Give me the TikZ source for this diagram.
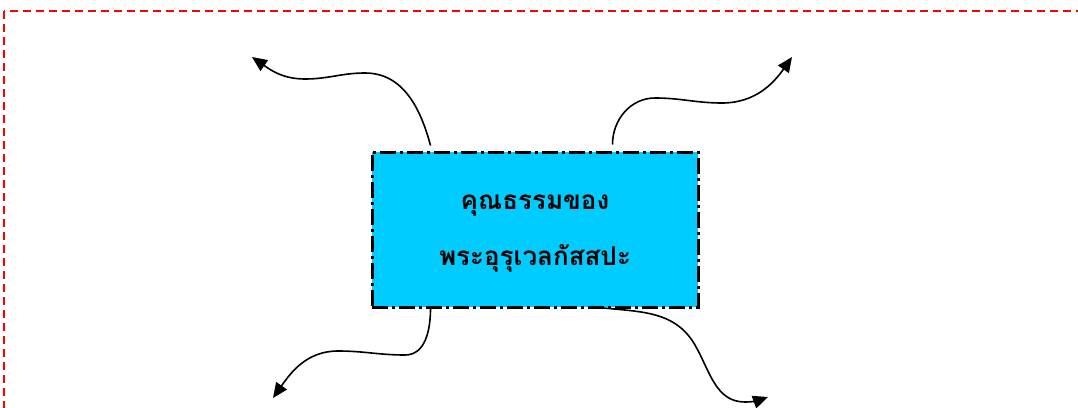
\documentclass[tikz,border=0pt]{standalone}
\usepackage{fontspec}
\newfontfamily\thaifont[Script=Thai]{Loma}
\usetikzlibrary{arrows.meta}
\definecolor{boxcyan}{RGB}{0,204,255}
\tikzset{
  mainbox/.style={draw=black, fill=boxcyan, line width=3pt,
    dash pattern=on 16pt off 4pt on 3pt off 4pt,
    minimum width=326pt, minimum height=155pt, inner sep=0pt},
  titletext/.style={align=center, inner sep=0pt,
    font=\thaifont\bfseries\fontsize{26}{56}\selectfont},
  curvearrow/.style={line width=1.6pt, -{Triangle[length=15pt,width=13pt]}},
  frame/.style={draw=red, line width=1.2pt, dash pattern=on 8pt off 5pt}
}
\begin{document}
\begin{tikzpicture}[x=1pt,y=-1pt]
\useasboundingbox (0,0) rectangle (1078,407);
\begin{scope}
\clip (0,0) rectangle (1078,407);
\draw[frame] (4,11) rectangle (1100,430);
\end{scope}
\node[mainbox] (main) at (535,229.5) {};
\node[titletext] (title) at (535,234) {คุณธรรมของ\\พระอุรุเวลกัสสปะ};
\coordinate (tl) at (252,57);
\coordinate (tr) at (792,57);
\coordinate (bl) at (273,398);
\coordinate (br) at (768,397);
\draw[curvearrow] ([xshift=60pt,yshift=5pt]main.north west) to[out=105,in=0] (365,73) to[out=180,in=0] (305,79) to[out=180,in=-35] (tl);
\draw[curvearrow] ([xshift=-87pt,yshift=6pt]main.north east) to[out=90,in=180] (655,98) to[out=0,in=180] (722,103) to[out=0,in=-125] (tr);
\draw[curvearrow] ([xshift=60pt]main.south west) to[out=-90,in=0] (405,355) to[out=180,in=0] (338,351) to[out=180,in=55] (bl);
\draw[curvearrow] ([xshift=-108pt,yshift=2pt]main.south east) to[out=-8,in=120] (695,345) to[out=-60,in=180] (745,402) to[out=0,in=200] (br);
\end{tikzpicture}
\end{document}
